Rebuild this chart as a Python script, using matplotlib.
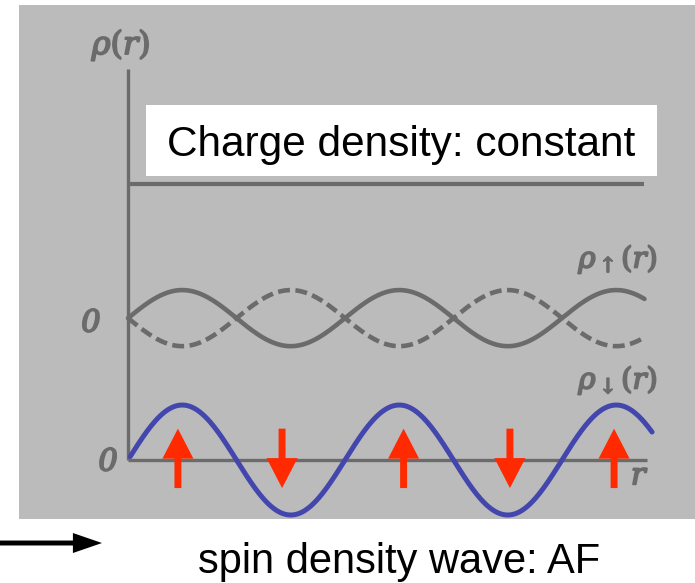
import numpy as np
import matplotlib

matplotlib.use("Agg")
import matplotlib.pyplot as plt
import matplotlib.patheffects as pe
from matplotlib.patches import Rectangle

plt.rcParams["mathtext.fontset"] = "dejavuserif"

# r in units of the SDW wavelength, density in units of the SDW amplitude
wavelength = 1.0
r_start = [0.0, 0.01]          # gray waves, blue wave
r_end = [2.38, 2.415]
axis_r_end = 2.39
axis_top = 7.11
charge_level = 5.02
spin_center = 2.58
spin_amp = 0.51
sdw_amp = 1.0

up_arrow_r = [0.23, 1.27, 2.24]
down_arrow_r = [0.71, 1.76]
arrow_low, arrow_high = -0.51, 0.57

charge_text = "Charge density: constant"
bottom_text = "spin density wave: AF"

GRAY = "#6b6b6b"
PANEL = "#bbbbbb"
BLUE = "#4347ad"
RED = "#ff2a00"

fig = plt.figure(figsize=(6.95, 5.83), dpi=100)
ax = fig.add_axes([0, 0, 1, 1])
ax.set_xlim(-0.5899, 2.6129)
ax.set_ylim(-2.236, 8.364)
ax.axis("off")

# gray scanned panel
ax.add_patch(Rectangle((0.0273, 0.1098), 0.9727, 0.8816, transform=ax.transAxes,
                       facecolor=PANEL, edgecolor="none", zorder=0))

# axes of the sketch
ax.plot([0, 0], [0, axis_top], color=GRAY, lw=2.4, solid_capstyle="butt", zorder=1)
ax.plot([0, axis_r_end], [0, 0], color=GRAY, lw=2.4, solid_capstyle="butt", zorder=1)

# constant charge density
ax.plot([0, r_end[0]], [charge_level, charge_level], color=GRAY, lw=3.0,
        solid_capstyle="butt", zorder=2)

# spin-up / spin-down densities
r = np.linspace(r_start[0], r_end[0], 400)
ax.plot(r, spin_center + spin_amp * np.sin(2 * np.pi * r / wavelength),
        color=GRAY, lw=3.3, solid_capstyle="round", zorder=2)
ax.plot(r, spin_center - spin_amp * np.sin(2 * np.pi * r / wavelength),
        color=GRAY, lw=3.3, dashes=(2.6, 1.2), dash_capstyle="butt", zorder=2)

# spin density wave
rb = np.linspace(r_start[1], r_end[1], 400)
ax.plot(rb, sdw_amp * np.sin(2 * np.pi * rb / wavelength), color=BLUE, lw=3.6,
        solid_capstyle="round", zorder=3)

for x in up_arrow_r:
    ax.arrow(x, arrow_low, 0, arrow_high - arrow_low, width=0.032, head_width=0.143,
             head_length=0.545, length_includes_head=True, color=RED, lw=0, zorder=4)
for x in down_arrow_r:
    ax.arrow(x, arrow_high, 0, arrow_low - arrow_high, width=0.032, head_width=0.143,
             head_length=0.545, length_includes_head=True, color=RED, lw=0, zorder=4)

# labels from the scan (heavy, slightly smeared print)
heavy = [pe.withStroke(linewidth=1.3, foreground=GRAY)]
lab = dict(color=GRAY, ha="center", va="center", zorder=5, path_effects=heavy)
ax.text(-0.032, 7.545, r"$\rho(r)$", fontsize=23, **lab)
ax.text(2.258, 3.655, r"$\rho_{\uparrow}(r)$", fontsize=21, **lab)
ax.text(2.258, 1.455, r"$\rho_{\downarrow}(r)$", fontsize=21, **lab)
ax.text(2.359, -0.291, r"$r$", fontsize=22, **lab)
zero = dict(color=GRAY, ha="center", va="center", fontsize=22, family="DejaVu Serif",
            style="italic", zorder=5, path_effects=heavy)
ax.text(-0.171, 2.49, "0", **zero)
ax.text(-0.092, -0.036, "0", **zero)

# white caption box
ax.add_patch(Rectangle((0.083, 5.164), 2.355, 1.291, facecolor="white",
                       edgecolor="none", zorder=6))
ax.text(0.18, 5.527, charge_text, family="Liberation Sans", fontsize=30.5,
        ha="left", va="baseline", color="black", zorder=7)

# black arrow lower left and caption
ax.arrow(-0.5899, -1.509, 0.47, 0, width=0.09, head_width=0.364, head_length=0.134,
         length_includes_head=True, color="black", lw=0, zorder=4)
ax.text(1.249, -2.055, bottom_text, family="Liberation Sans", fontsize=30,
        ha="center", va="baseline", color="black", zorder=7)

fig.savefig("out.png", dpi=100, facecolor="white")
